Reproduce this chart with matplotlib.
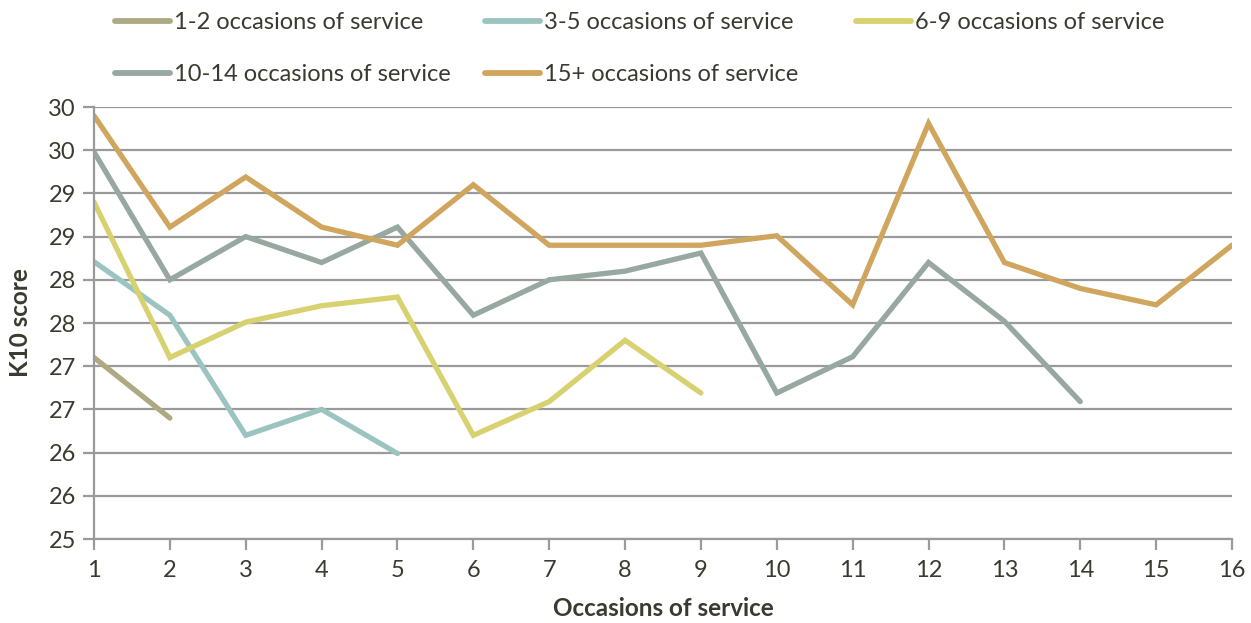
import matplotlib.pyplot as plt
from matplotlib.ticker import FixedLocator, FuncFormatter
import numpy as np

plt.rcParams['font.family'] = ['Lato', 'DejaVu Sans']

# Data (K10 score by occasion of service)
labels = ["1-2 occasions of service", "3-5 occasions of service", "6-9 occasions of service",
          "10-14 occasions of service", "15+ occasions of service"]
colors = ["#aca983", "#9bc4c1", "#d8d170", "#96a89f", "#d0a55d"]

k10_1_2 = [27.10, 26.40]
k10_3_5 = [28.21, 27.59, 26.20, 26.50, 25.99]
k10_6_9 = [28.90, 27.10, 27.51, 27.70, 27.80, 26.20, 26.59, 27.30, 26.69]
k10_10_14 = [29.48, 28.00, 28.50, 28.20, 28.61, 27.59, 28.00, 28.10, 28.31, 26.69,
             27.11, 28.20, 27.52, 26.59]
k10_15 = [29.90, 28.61, 29.19, 28.61, 28.40, 29.10, 28.40, 28.40, 28.40, 28.51,
          27.71, 29.81, 28.20, 27.90, 27.71, 28.40]

series = [k10_1_2, k10_3_5, k10_6_9, k10_10_14, k10_15]
yticks = np.arange(25, 30.01, 0.5)

txt = "#3b3a30"
grid_c = "#9a9a9a"

fig = plt.figure(figsize=(12.51, 6.23), dpi=100)
ax = fig.add_axes([94/1251, 1 - 539/623, (1232-94)/1251, (539-107)/623])

lines = []
for vals, lab, c in zip(series, labels, colors):
    x = np.arange(1, len(vals) + 1)
    ln, = ax.plot(x, vals, color=c, lw=3.8, label=lab, solid_capstyle='round',
                  solid_joinstyle='miter')
    lines.append(ln)

ax.set_xlim(1, 16)
ax.set_ylim(25, 30)
ax.set_xticks(range(1, 17))
ax.yaxis.set_major_locator(FixedLocator(yticks))
# labels shown rounded to whole numbers (half up), as in the original
ax.yaxis.set_major_formatter(FuncFormatter(lambda v, p: "%d" % int(np.floor(v + 0.5))))

ax.grid(axis='y', color=grid_c, lw=1.6)
ax.set_axisbelow(True)
for s in ['top', 'right']:
    ax.spines[s].set_visible(False)
ax.spines['left'].set_color(grid_c)
ax.spines['left'].set_linewidth(1.6)
ax.spines['bottom'].set_color(grid_c)
ax.spines['bottom'].set_linewidth(1.6)
ax.tick_params(axis='both', colors=grid_c, width=1.6, length=8, labelsize=17,
               labelcolor=txt)
ax.tick_params(axis='x', pad=7)
ax.tick_params(axis='y', pad=5)

ax.set_xlabel("Occasions of service", fontsize=17.5, fontweight='bold', color=txt, labelpad=12)
ax.set_ylabel("K10 score", fontsize=17.5, fontweight='bold', color=txt, labelpad=12)

# legend: three columns placed like the original, filled row-wise
cols = [[0, 3], [1, 4], [2]]
col_x = [115, 485, 856]
for idx, cx in zip(cols, col_x):
    leg = fig.legend([lines[i] for i in idx], [labels[i] for i in idx],
                     loc='upper left', bbox_to_anchor=(cx/1251, 1 - 12/623),
                     frameon=False, fontsize=17, handlelength=2.35,
                     handletextpad=0.15, labelspacing=1.33, labelcolor=txt,
                     borderaxespad=0, borderpad=0)
    for h in leg.legend_handles:
        h.set_linewidth(4.2)

plt.savefig("out.png", dpi=100)
